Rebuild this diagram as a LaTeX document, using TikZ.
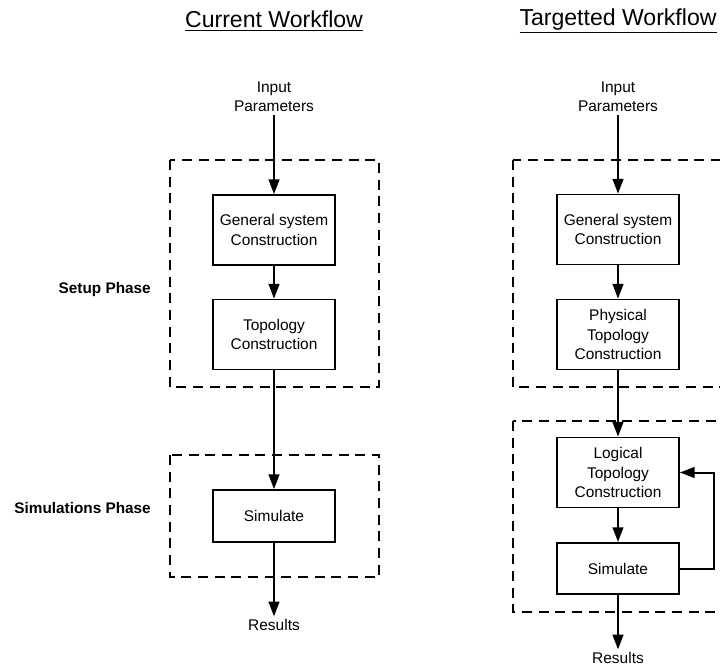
\documentclass[tikz,border=0pt]{standalone}
\usepackage{fontspec}
\setmainfont{Liberation Sans}
\usetikzlibrary{arrows.meta}
\begin{document}
\begin{tikzpicture}[x=0.75pt,y=-0.75pt,
  stagebox/.style={draw,line width=1.3pt,minimum width=91.5pt,minimum height=52.5pt,
    align=center,font=\fontsize{11.6}{14.3}\selectfont,inner sep=2pt},
  plain/.style={align=center,font=\fontsize{11.6}{14.3}\selectfont,inner sep=2pt},
  phaselabel/.style={anchor=east,font=\bfseries\fontsize{11.5}{14}\selectfont,inner sep=0pt},
  heading/.style={font=\fontsize{17.3}{20}\selectfont,inner sep=0pt},
  phasebox/.style={draw,line width=1.2pt,dash pattern=on 7.5pt off 5pt},
  flow/.style={line width=1.5pt,-{Triangle[width=8pt,length=11pt]}}]
\useasboundingbox (0,0) rectangle (720,667);
\clip (0,0) rectangle (720,667);

% headings
\node[heading] (ctitle) at (274,21) {\underline{Current Workflow}};
\node[heading] (ttitle) at (618,21) {\underline{Targetted Workflow}};

% phase labels
\node[phaselabel] (setup) at (151,290) {Setup Phase};
\node[phaselabel] (simph) at (151,508) {Simulations Phase};

% phase regions
\draw[phasebox] (170,160) rectangle (379,387);
\draw[phasebox] (170,455) rectangle (379,577);
\draw[phasebox] (513,160) rectangle (740,387);
\draw[phasebox] (513,421) rectangle (740,612);

% current workflow
\node[plain] (cin) at (274,97) {Input\\Parameters};
\node[stagebox] (cgen) at (274,230) {General system\\Construction};
\node[stagebox] (ctopo) at (274,334.5) {Topology\\Construction};
\node[stagebox,minimum height=39pt] (csim) at (274,516) {Simulate};
\node[plain] (cres) at (274,625) {Results};

\draw[flow] (cin) -- (cgen);
\draw[flow] (cgen) -- (ctopo);
\draw[flow] (ctopo) -- (csim);
\draw[flow] (csim) -- (cres);

% targetted workflow
\node[plain] (tin) at (618,97) {Input\\Parameters};
\node[stagebox] (tgen) at (618,229.5) {General system\\Construction};
\node[stagebox] (tphys) at (618,334.5) {Physical\\Topology\\Construction};
\node[stagebox] (tlog) at (618,472.5) {Logical\\Topology\\Construction};
\node[stagebox,minimum height=38.5pt] (tsim) at (618,568.5) {Simulate};
\node[plain] (tres) at (618,658) {Results};

\draw[flow] (tin) -- (tgen);
\draw[flow] (tgen) -- (tphys);
\draw[flow] (tphys) -- (tlog);
\draw[flow] (tlog) -- (tsim);
\draw[flow] (tsim) -- (tres);
\draw[flow] (tsim.east) -- ++(34,0) |- (tlog.east);
\end{tikzpicture}
\end{document}
